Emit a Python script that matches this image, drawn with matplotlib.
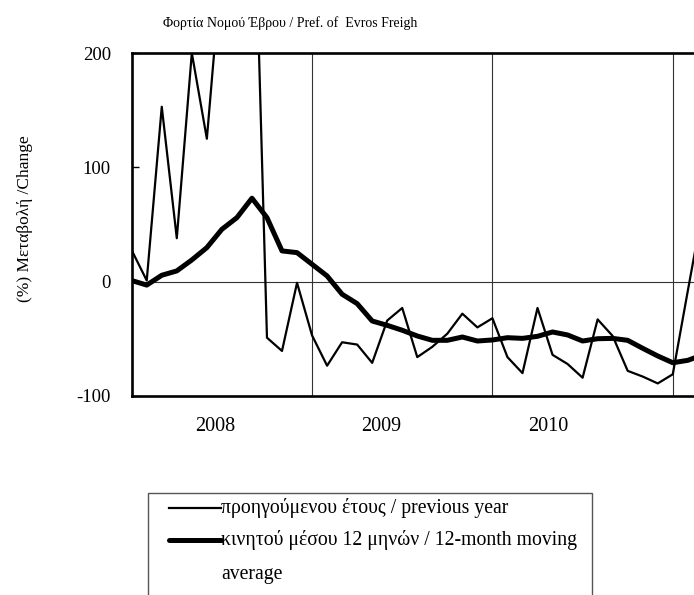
import matplotlib
matplotlib.use("Agg")
import matplotlib.pyplot as plt
from matplotlib.patches import Rectangle
from matplotlib.lines import Line2D

plt.rcParams['font.family'] = ['Liberation Serif', 'DejaVu Serif']

# Monthly values, starting Jan 2008
prev_year = [27.5, 1, 153, 38, 200, 125, 280, 350, 420, -49, -60.6, -1,
             -47, -73.5, -53, -55, -71, -34, -23, -66, -57, -45.5, -28, -40,
             -32, -66, -80, -23, -64, -72, -84, -33, -47.5, -78, -83, -89,
             -81, -8, 64]
moving_avg = [1, -3, 5.6, 9.4, 19, 29.8, 45.8, 56, 73, 56, 26.9, 25.4,
              15.2, 5, -11, -19.2, -34.4, -38.2, -42.5, -47.5, -51.3, -51.3, -48.4, -51.9,
              -51, -49, -49.6, -47.8, -44, -46.6, -51.9, -49.9, -49.6, -51.3, -58.3, -65,
              -70.9, -68.8, -64]
year_labels = ['2008', '2009', '2010']
y_ticks = [-100, 0, 100, 200]

title = 'Φορτία Νομού Έβρου / Pref. of  Evros Freigh'
ylabel = '(%) Μεταβολή /Change'
leg1 = 'προηγούμενου έτους / previous year'
leg2a = 'κινητού μέσου 12 μηνών / 12-month moving'
leg2b = 'average'

W, H = 694, 595
fig = plt.figure(figsize=(W / 100, H / 100), dpi=100)
x0, x1, ytop, ybot = 131.7, 694, 53, 396
ax = fig.add_axes([x0 / W, 1 - ybot / H, (x1 - x0) / W, (ybot - ytop) / H])

months = list(range(len(prev_year)))
ax.set_xlim(0, (x1 - x0) / 15.03)
ax.set_ylim(-100, 200)

for xv in (12, 24, 36):
    ax.axvline(xv, color='#333333', lw=0.8, zorder=1)
ax.axhline(0, color='#333333', lw=0.8, zorder=1)

ax.plot(months, prev_year, color='black', lw=1.6, zorder=3)
ax.plot(months, moving_avg, color='black', lw=3.6, zorder=4)

for side in ('left', 'top', 'bottom'):
    ax.spines[side].set_linewidth(1.9)
ax.spines['right'].set_visible(False)

ax.set_yticks(y_ticks)
ax.set_yticklabels([str(v) for v in y_ticks])
ax.tick_params(axis='y', direction='in', length=5, width=1, pad=15, labelsize=13.5)

year_pos = [5.55, 16.6, 27.7]
ax.set_xticks(year_pos)
ax.set_xticklabels(year_labels)
ax.tick_params(axis='x', length=0, pad=15, labelsize=14.5)

fig.text(290.5 / W, 1 - 23 / H, title, ha='center', va='center', fontsize=10)
fig.text(25 / W, 1 - 219 / H, ylabel, ha='center', va='center', rotation=90, fontsize=12.5)

# legend box
rect = Rectangle((148.3 / W, 1 - 605 / H), (591.7 - 148.3) / W, (605 - 492.7) / H,
                 transform=fig.transFigure, fill=False, edgecolor='#555555', lw=1.0)
fig.add_artist(rect)
fig.add_artist(Line2D([169 / W, 221 / W], [1 - 508 / H, 1 - 508 / H],
                      transform=fig.transFigure, color='black', lw=1.6))
fig.add_artist(Line2D([169 / W, 221 / W], [1 - 540 / H, 1 - 540 / H],
                      transform=fig.transFigure, color='black', lw=3.6,
                      solid_capstyle='round'))
fig.text(221 / W, 1 - 508 / H, leg1, ha='left', va='center', fontsize=14.2)
fig.text(221 / W, 1 - 540 / H, leg2a, ha='left', va='center', fontsize=14.2)
fig.text(221 / W, 1 - 574 / H, leg2b, ha='left', va='center', fontsize=14.2)

fig.savefig('out.png', dpi=100)
